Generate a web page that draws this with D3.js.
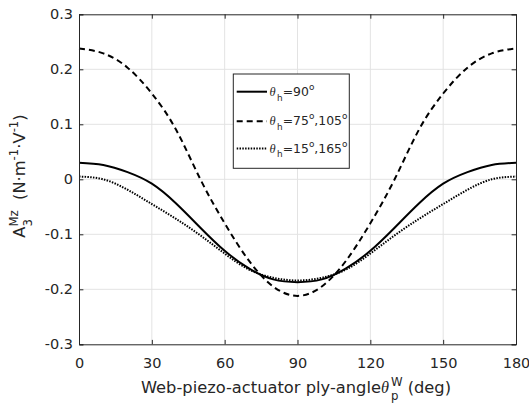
<!DOCTYPE html>
<html>
<head>
<meta charset="utf-8">
<script src="https://cdn.jsdelivr.net/npm/d3@7"></script>
<style>
  html, body { margin: 0; padding: 0; background: #fff; }
  svg { display: block; font-family: "DejaVu Sans", "Liberation Sans", Arial, sans-serif; }
  svg text { white-space: pre; }
</style>
</head>
<body>
<svg id="chart" width="529" height="407"></svg>
<script>
// Ply angle of the web piezo-actuator (deg)
const angles = [0, 10, 20, 30, 40, 50, 60, 70, 80, 90, 100, 110, 120, 130, 140, 150, 160, 170, 180];

// A3^Mz for each hub angle θh
const seriesH90 = [0.030, 0.026, 0.013, -0.008, -0.044, -0.088, -0.130, -0.162, -0.182, -0.187,
                   -0.182, -0.162, -0.130, -0.088, -0.044, -0.008, 0.013, 0.026, 0.030];
const seriesH75 = [0.238, 0.229, 0.203, 0.156, 0.090, 0.000, -0.080, -0.148, -0.195, -0.212,
                   -0.195, -0.148, -0.080, 0.000, 0.090, 0.156, 0.203, 0.229, 0.238];
const seriesH15 = [0.005, 0.000, -0.019, -0.045, -0.072, -0.102, -0.135, -0.164, -0.179, -0.184,
                   -0.179, -0.164, -0.135, -0.102, -0.072, -0.045, -0.019, 0.000, 0.005];

const xTicks = [0, 30, 60, 90, 120, 150, 180];
const yTicks = [-0.3, -0.2, -0.1, 0, 0.1, 0.2, 0.3];

const axisColor = "#262626";
const svg = d3.select("#chart");

const plotLeft = 79, plotRight = 516, plotTop = 14.3, plotBottom = 344.3;
const x = d3.scaleLinear().domain([0, 180]).range([plotLeft, plotRight]);
const y = d3.scaleLinear().domain([-0.3, 0.3]).range([plotBottom, plotTop]);

// grid
const grid = svg.append("g").attr("stroke", "#e3e3e3").attr("stroke-width", 1);
xTicks.slice(1, -1).forEach(t => grid.append("line")
  .attr("x1", x(t)).attr("x2", x(t)).attr("y1", plotTop).attr("y2", plotBottom));
yTicks.slice(1, -1).forEach(t => grid.append("line")
  .attr("x1", plotLeft).attr("x2", plotRight).attr("y1", y(t)).attr("y2", y(t)));

// curves
const line = d3.line().x((d, i) => x(angles[i])).y(d => y(d)).curve(d3.curveNatural);
const styles = [
  { data: seriesH90, dash: null },
  { data: seriesH75, dash: "6,4" },
  { data: seriesH15, dash: "1.5,1.3" }
];
styles.forEach(s => {
  svg.append("path").attr("d", line(s.data)).attr("fill", "none")
    .attr("stroke", "#000").attr("stroke-width", 2)
    .attr("stroke-dasharray", s.dash);
});

// axes (ticks inside, mirrored on the top and right)
const tickLen = 4.4;
const yFmt = d => d === 0 ? "0" : d.toFixed(1);
const gx = svg.append("g").attr("transform", `translate(0,${plotBottom})`)
  .call(d3.axisBottom(x).tickValues(xTicks).tickSize(-tickLen).tickPadding(13).tickFormat(d => String(d)));
const gy = svg.append("g").attr("transform", `translate(${plotLeft},0)`)
  .call(d3.axisLeft(y).tickValues(yTicks).tickSize(-tickLen).tickPadding(6).tickFormat(yFmt));
const gxTop = svg.append("g").attr("transform", `translate(0,${plotTop})`)
  .call(d3.axisTop(x).tickValues(xTicks).tickSize(-tickLen).tickFormat(""));
const gyRight = svg.append("g").attr("transform", `translate(${plotRight},0)`)
  .call(d3.axisRight(y).tickValues(yTicks).tickSize(-tickLen).tickFormat(""));
[gx, gy, gxTop, gyRight].forEach(g => {
  g.select(".domain").attr("stroke", axisColor);
  g.selectAll(".tick line").attr("stroke", axisColor);
  g.selectAll(".tick text").attr("fill", axisColor).attr("font-size", 14.5)
    .attr("font-family", "DejaVu Sans, sans-serif");
});

// rich text: runs with sub/superscripts; a run with stack:true shares the start of the previous run
function richText(parent, runs, size, anchor) {
  const g = parent.append("g");
  let xPos = 0, prevStart = 0, prevW = 0;
  runs.forEach(r => {
    const fs = r.pos ? size * 0.72 : size;
    const dy = r.pos === "sub" ? size * 0.40 : r.pos === "sup" ? -size * 0.46 : 0;
    const start = r.stack ? prevStart : xPos;
    const t = g.append("text").attr("x", start).attr("y", dy)
      .attr("font-size", fs).attr("fill", axisColor)
      .attr("font-style", r.italic ? "italic" : null)
      .attr("font-family", r.italic ? "Liberation Serif, Times New Roman, serif" : "DejaVu Sans, sans-serif")
      .text(r.t);
    // italic glyphs lean past their advance; leave a little room after them
    const w = t.node().getComputedTextLength() + (r.italic ? size * 0.12 : 0);
    if (r.stack) { xPos = start + Math.max(prevW, w); prevW = Math.max(prevW, w); }
    else { xPos = start + w; prevW = w; prevStart = start; }
  });
  if (anchor === "middle") g.selectAll("text").attr("x", function () { return +d3.select(this).attr("x") - xPos / 2; });
  return g;
}

// x label
richText(svg.append("g").attr("transform", "translate(296,393)"), [
  { t: "Web-piezo-actuator ply-angle" },
  { t: "θ", italic: true },
  { t: "W", pos: "sup" },
  { t: "p", pos: "sub", stack: true },
  { t: " (deg)" }
], 16.3, "middle");

// y label
richText(svg.append("g").attr("transform", "translate(25,176) rotate(-90)"), [
  { t: "A" },
  { t: "Mz", pos: "sup" },
  { t: "3", pos: "sub", stack: true },
  { t: "  (N·m" },
  { t: "-1", pos: "sup" },
  { t: "·V" },
  { t: "-1", pos: "sup" },
  { t: ")" }
], 16.3, "middle");

// legend
const lg = svg.append("g");
lg.append("rect").attr("x", 233.3).attr("y", 74).attr("width", 116).attr("height", 94.3)
  .attr("fill", "#fff").attr("stroke", axisColor).attr("stroke-width", 1);
const legendItems = [
  { dash: null, runs: [{ t: "θ", italic: true }, { t: "h", pos: "sub" }, { t: "=90" }, { t: "o", pos: "sup" }] },
  { dash: "6,4", runs: [{ t: "θ", italic: true }, { t: "h", pos: "sub" }, { t: "=75" }, { t: "o", pos: "sup" }, { t: ",105" }, { t: "o", pos: "sup" }] },
  { dash: "1.5,1.3", runs: [{ t: "θ", italic: true }, { t: "h", pos: "sub" }, { t: "=15" }, { t: "o", pos: "sup" }, { t: ",165" }, { t: "o", pos: "sup" }] }
];
const legendY = [91.7, 121.2, 148.5];
legendItems.forEach((it, i) => {
  lg.append("line").attr("x1", 236.7).attr("x2", 267).attr("y1", legendY[i]).attr("y2", legendY[i])
    .attr("stroke", "#000").attr("stroke-width", 2).attr("stroke-dasharray", it.dash);
  richText(lg.append("g").attr("transform", `translate(269.5,${legendY[i] + 4})`), it.runs, 12.4);
});
</script>
</body>
</html>
